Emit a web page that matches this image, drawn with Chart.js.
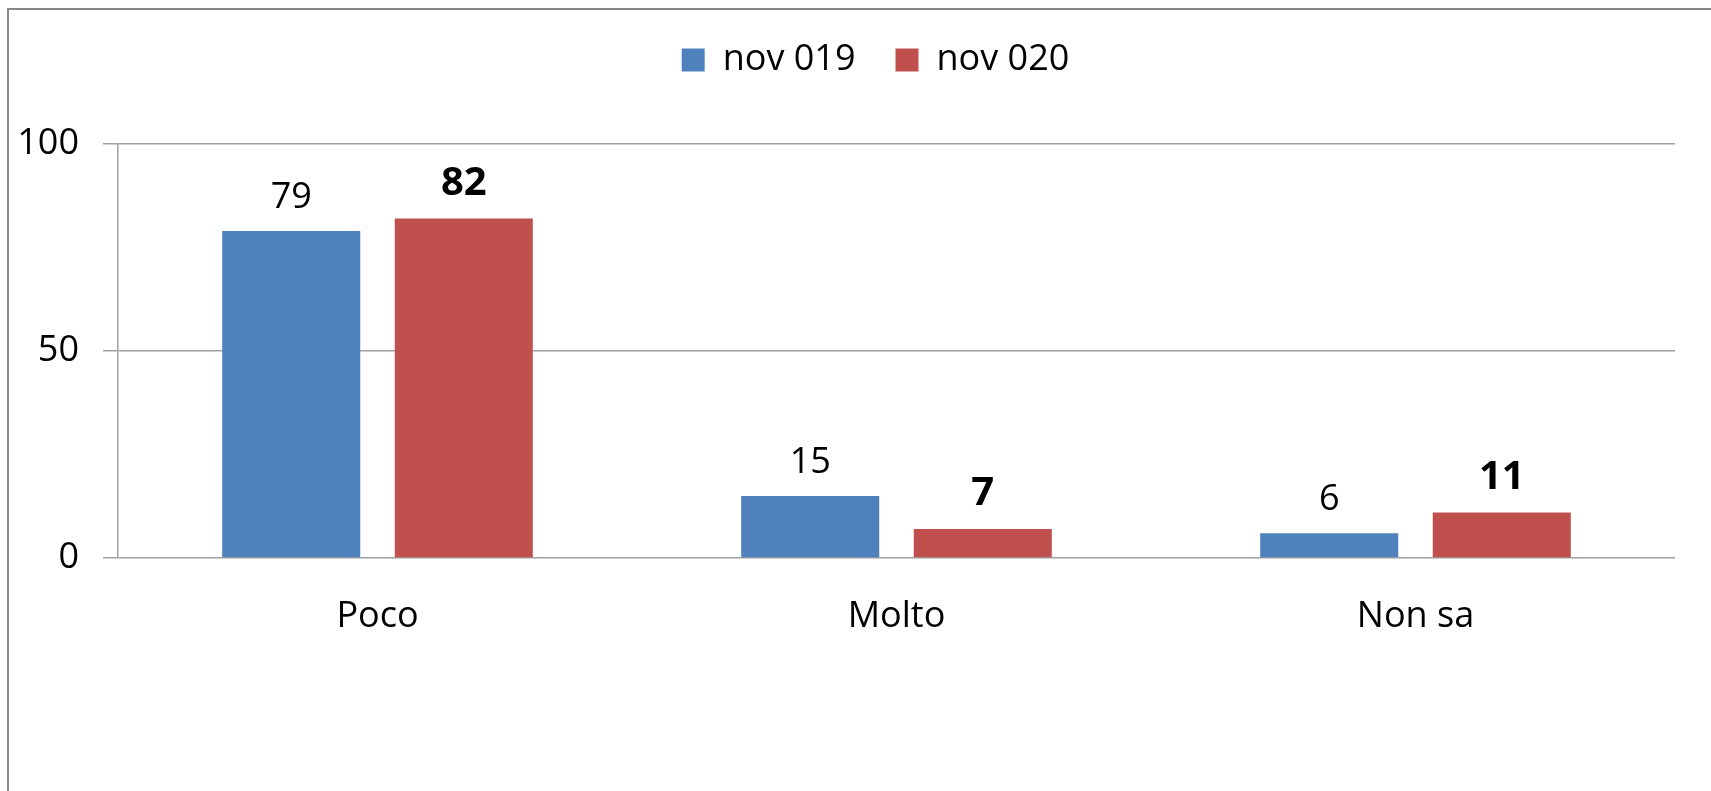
<!DOCTYPE html>
<html>
<head>
<meta charset="utf-8">
<script src="https://cdn.jsdelivr.net/npm/chart.js@4.4.1/dist/chart.umd.min.js"></script>
<style>
  html, body { margin: 0; padding: 0; background: #fff; overflow: hidden; }
  #frame {
    position: absolute; left: 7px; top: 8px;
    width: 2000px; height: 1000px;
    border-left: 2.5px solid #878787; border-top: 2.5px solid #878787;
  }
  #chart { position: absolute; left: 0; top: 0; }
</style>
</head>
<body>
<div id="frame"></div>
<canvas id="chart" width="1711" height="791"></canvas>
<script>
// data
const categories = ["Poco", "Molto", "Non sa"];
const seriesNames = ["nov 019", "nov 020"];
const nov019 = [79, 15, 6];
const nov020 = [82, 7, 11];
const yTicks = [0, 50, 100];

const FONT = "'Open Sans', sans-serif";
const SIZE = 36;
const BOLD_SIZE = 40;

// value labels above bars (second series bold and bigger)
const valueLabels = {
  id: "valueLabels",
  afterDatasetsDraw(chart) {
    const ctx = chart.ctx;
    ctx.save();
    ctx.fillStyle = "#000";
    ctx.textAlign = "center";
    ctx.textBaseline = "bottom";
    chart.data.datasets.forEach((ds, i) => {
      ctx.font = i === 1 ? "bold " + BOLD_SIZE + "px " + FONT : SIZE + "px " + FONT;
      chart.getDatasetMeta(i).data.forEach((bar, j) => {
        ctx.fillText(ds.data[j], bar.x, bar.y - 15);
      });
    });
    ctx.restore();
  }
};

// fixed legend height + nudge legend to the right
const legendHeight = {
  id: "legendHeight",
  beforeInit(chart) {
    const fit = chart.legend.fit;
    chart.legend.fit = function () {
      fit.bind(chart.legend)();
      this.height = 142;
    };
  },
  afterLayout(chart) {
    chart.legend.left += 38;
    chart.legend.right += 38;
  }
};

new Chart(document.getElementById("chart"), {
  type: "bar",
  data: {
    labels: categories,
    datasets: [
      { label: seriesNames[0], data: nov019, backgroundColor: "#4F81BD" },
      { label: seriesNames[1], data: nov020, backgroundColor: "#C0504D" }
    ]
  },
  options: {
    responsive: false,
    animation: false,
    layout: { padding: { left: 0, right: 36, top: 2, bottom: 0 } },
    datasets: { bar: { categoryPercentage: 0.665, barPercentage: 0.8 } },
    plugins: {
      legend: {
        position: "top",
        labels: {
          boxWidth: 23, boxHeight: 23, padding: 40,
          color: "#000",
          font: { family: FONT, size: SIZE }
        }
      },
      tooltip: { enabled: false },
      title: { display: false }
    },
    scales: {
      x: {
        grid: { display: false, drawTicks: false },
        border: { display: false },
        ticks: { color: "#000", padding: 37, font: { family: FONT, size: SIZE } },
        afterFit(scale) { scale.height = 791 - 558; }
      },
      y: {
        min: 0, max: 100,
        afterBuildTicks(scale) { scale.ticks = yTicks.map(v => ({ value: v })); },
        grid: { color: "#a0a0a0", lineWidth: 1.5, tickLength: 15 },
        border: { display: true, color: "#a0a0a0", width: 1.5 },
        ticks: { color: "#000", padding: 24, font: { family: FONT, size: SIZE } },
        afterFit(scale) { scale.width = 118; }
      }
    }
  },
  plugins: [valueLabels, legendHeight]
});
</script>
</body>
</html>
